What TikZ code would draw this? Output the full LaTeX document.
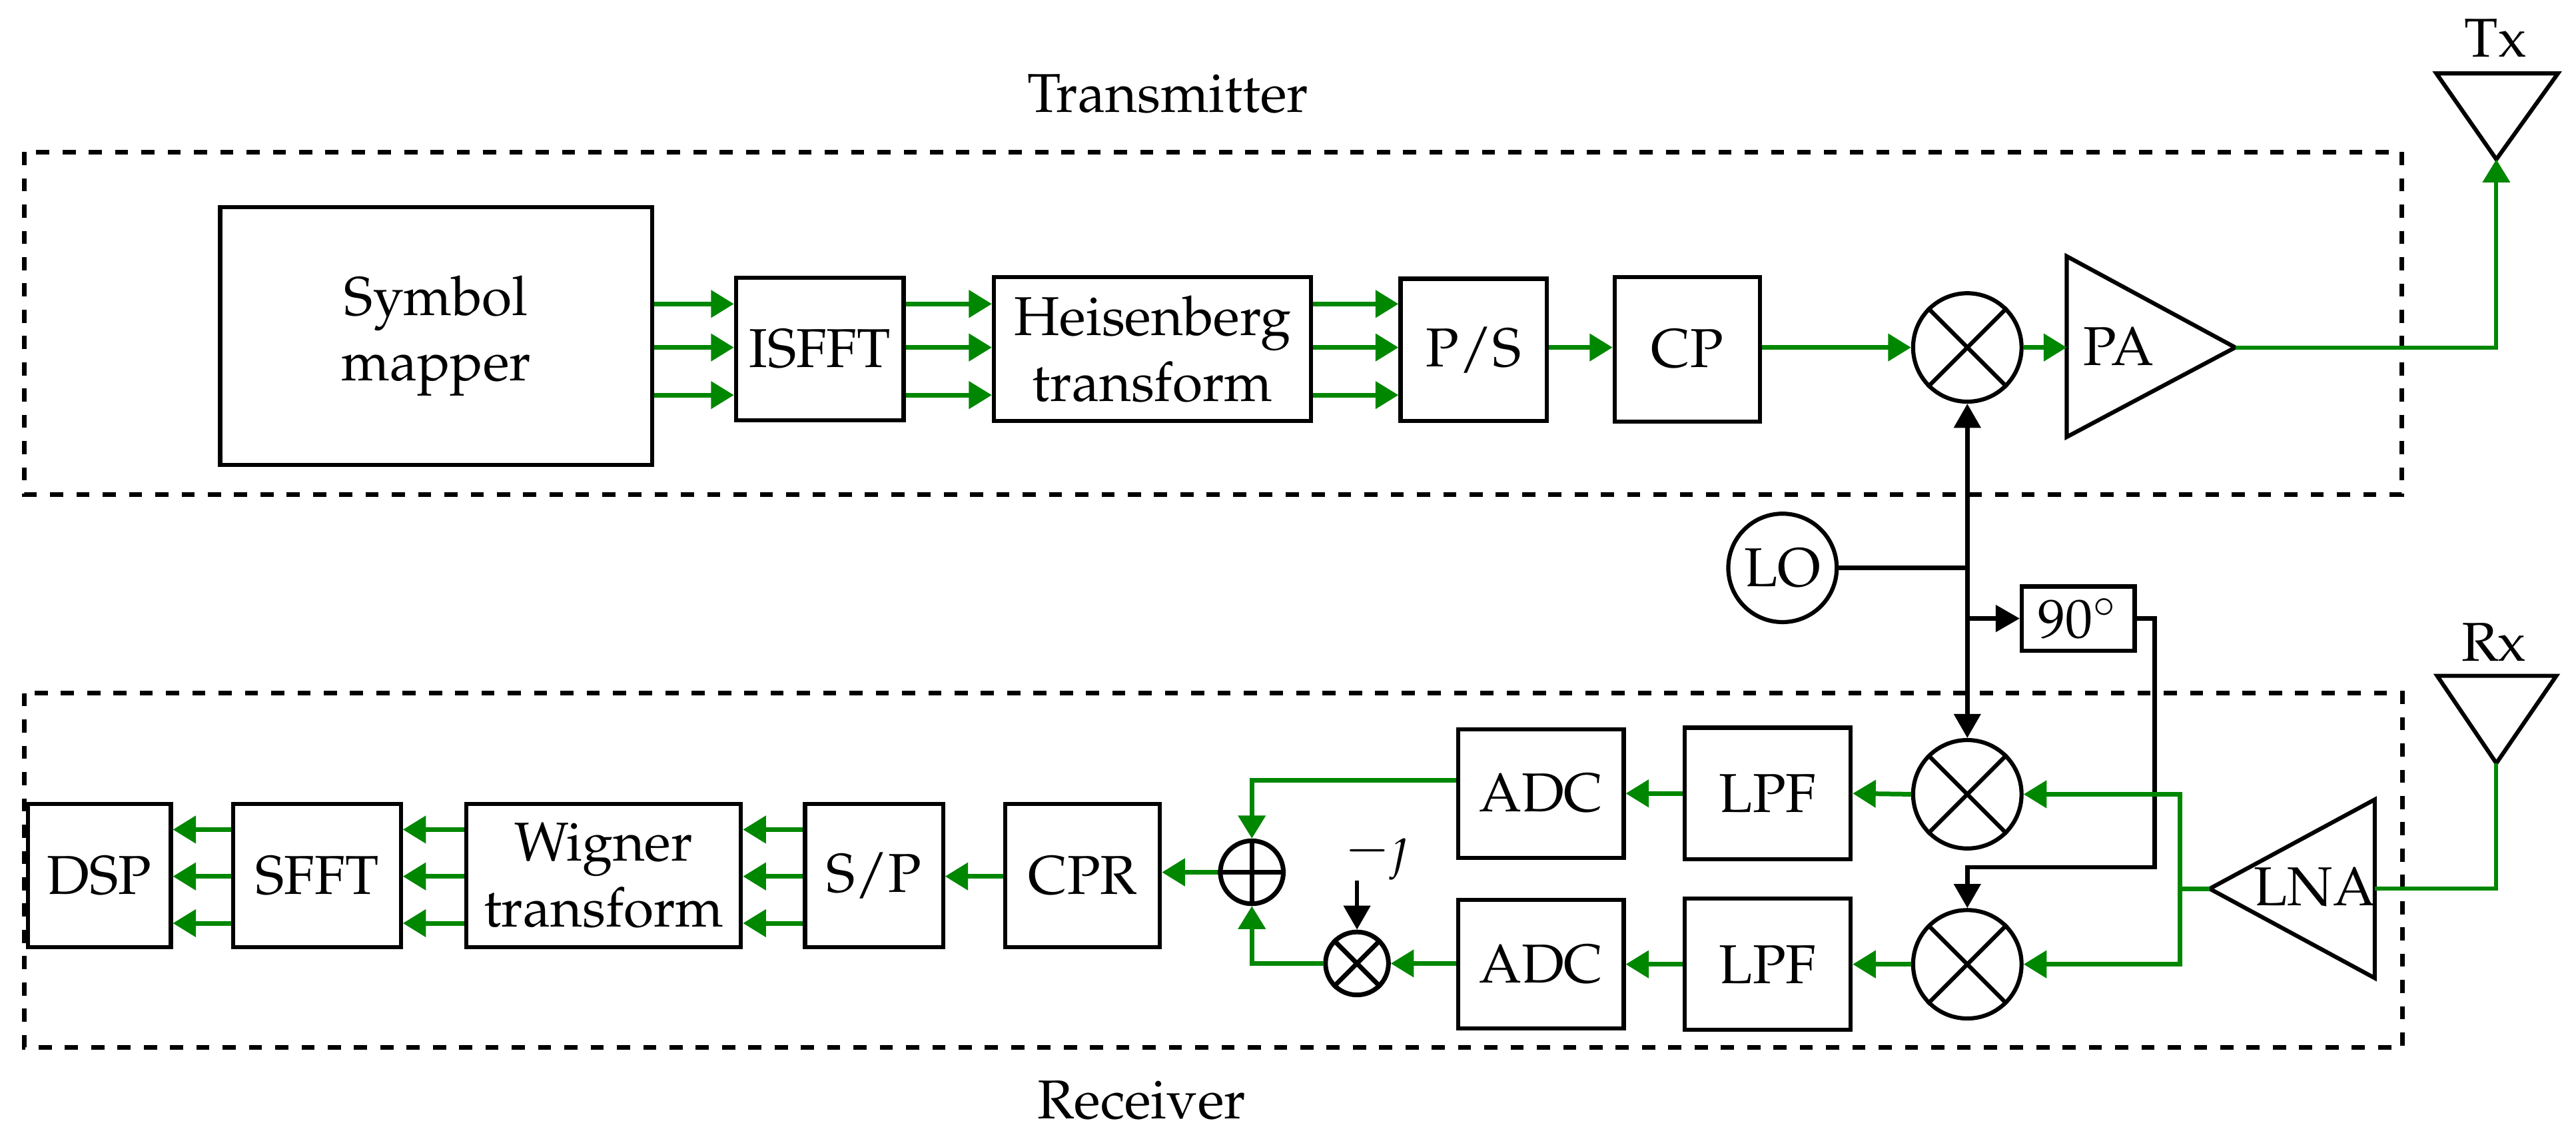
\documentclass[tikz,border=0pt]{standalone}
\usepackage[T1]{fontenc}
\usepackage{mathpazo}
\usetikzlibrary{arrows.meta,calc}
\definecolor{sig}{RGB}{0,135,0}
\begin{document}
\begin{tikzpicture}[x=0.3pt,y=-0.3pt,
  blk/.style={draw,line width=0.75pt,inner sep=1pt,align=center},
  mix/.style={draw,circle,line width=0.75pt,minimum size=19.8pt,inner sep=0pt},
  smallmix/.style={draw,circle,line width=0.85pt,minimum size=11.5pt,inner sep=0pt},
  gr/.style={draw=sig,color=sig,line width=0.85pt,-{Triangle[length=4.2pt,width=4.9pt]}},
  bk/.style={draw=black,line width=0.8pt,-{Triangle[length=4.4pt,width=4.8pt]}},
  bkk/.style={draw=black,line width=0.8pt,{Triangle[length=4.4pt,width=4.8pt]}-{Triangle[length=4.4pt,width=4.8pt]}},
  frame/.style={draw,line width=0.85pt,dash pattern=on 2.4pt off 2.4pt},
  tri/.style={draw,line width=0.75pt,line join=miter}]
\useasboundingbox (0,0) rectangle (1568,692);

% row helpers
\coordinate (r1) at (0,185);
\coordinate (r2) at (0,211.5);
\coordinate (r3) at (0,240.5);
\coordinate (s1) at (0,505);
\coordinate (s2) at (0,533.5);
\coordinate (s3) at (0,562);

% frames
\draw[frame] (15,92.5) rectangle (1462,301);
\node (txlabel) at (711,57) {Transmitter};
\draw[frame] (15,422) rectangle (1462.5,637.5);
\node (rxlabel) at (695,670) {Receiver};

% transmitter blocks
\node[blk,minimum width=78.9pt,minimum height=47.1pt] (sm) at (265.5,204.5) {Symbol\\mapper};
\node[blk,minimum width=30.6pt,minimum height=26pt] (isfft) at (499,212.5) {ISFFT};
\node[blk,minimum width=57.9pt,minimum height=26.2pt] (heis) at (701.5,212.5) {Heisenberg\\transform};
\node[blk,minimum width=26.7pt,minimum height=26pt] (ps) at (897,213) {P/S};
\node[blk,minimum width=26.5pt,minimum height=26.4pt] (cp) at (1027,212.5) {CP};
\node[mix] (mixtx) at (1197.5,211.5) {};

\foreach \r in {r1,r2,r3} {
  \draw[gr] (sm.east |- \r) -- (isfft.west |- \r);
  \draw[gr] (isfft.east |- \r) -- (heis.west |- \r);
  \draw[gr] (heis.east |- \r) -- (ps.west |- \r);
}
\draw[gr] (ps.east |- r2) -- (cp.west |- r2);
\draw[gr] (cp.east |- mixtx) -- (mixtx.west);

% PA
\coordinate (paTop) at (1258,156);
\coordinate (paBot) at (1258,266);
\coordinate (paTip) at (1360.6,211.5);
\coordinate (paIn) at (1258,211.5);
\draw[tri] (paTop) -- (paTip) -- (paBot) -- cycle;
\node (pa) at (1289.5,211) {PA};
\draw[gr] (mixtx.east) -- (paIn);

% Tx antenna
\coordinate (txa1) at (1483,44.7);
\coordinate (txa2) at (1557,44.7);
\coordinate (txtip) at (1519.5,97);
\draw[tri] (txa1) -- (txa2) -- (txtip) -- cycle;
\node (txl) at (1519,23) {Tx};
\draw[gr,line width=0.75pt] (paTip) -| (txtip);

% LO and phase shifter
\node[mix] (lo) at (1085,345.7) {LO};
\node[mix] (mixr1) at (1197.5,483.5) {};
\node[mix] (mixr2) at (1197.5,587) {};
\node[blk,minimum width=20.6pt,minimum height=11.7pt,inner sep=0pt] (ninety) at (1265,376.5) {$90^\circ$};
\draw[bkk] (mixtx.south) -- (mixr1.north);
\draw[line width=0.8pt] (lo.east) -- (lo.east -| mixtx);
\draw[bk] (mixtx |- ninety) -- (ninety.west);
\coordinate (q) at (1311.6,528);
\draw[bk] (ninety.east) -| (q) -| (mixr2.north);

% LNA
\coordinate (lnaTip) at (1345,541);
\coordinate (lnaTop) at (1445.5,486.7);
\coordinate (lnaBot) at (1445.5,595.4);
\coordinate (lnaIn) at (1445.5,541);
\draw[tri] (lnaTip) -- (lnaTop) -- (lnaBot) -- cycle;
\node (lna) at (1409,540) {LNA};

% Rx antenna
\coordinate (rxa1) at (1483.5,411.4);
\coordinate (rxa2) at (1556,411.4);
\coordinate (rxtip) at (1519.5,464.6);
\draw[tri] (rxa1) -- (rxa2) -- (rxtip) -- cycle;
\node (rxl) at (1518,391) {Rx};
\draw[sig,line width=0.75pt] (rxtip) |- (lnaIn);

\coordinate (jn) at (1327,541);
\draw[sig,line width=0.85pt] (lnaTip) -- (jn);
\draw[gr] (jn) |- (mixr1.east);
\draw[gr] (jn) |- (mixr2.east);

% LPF / ADC
\node[blk,minimum width=30.3pt,minimum height=24pt] (lpf1) at (1076,483) {LPF};
\node[blk,minimum width=30.3pt,minimum height=24pt] (lpf2) at (1076,587) {LPF};
\node[blk,minimum width=30.2pt,minimum height=23.5pt] (adc1) at (938,483) {ADC};
\node[blk,minimum width=30.2pt,minimum height=23.5pt] (adc2) at (938,587) {ADC};
\draw[gr] (mixr1.west) -- (lpf1.east);
\draw[gr] (mixr2.west) -- (lpf2.east);
\draw[gr] (lpf1.west) -- (adc1.east);
\draw[gr] (lpf2.west) -- (adc2.east);

% sum and -j
\node[smallmix] (sum) at (762,531) {};
\node[smallmix] (smix) at (826,586.5) {};
\draw[line width=0.85pt] (sum.north) -- (sum.south) (sum.west) -- (sum.east);
\foreach \m in {mixtx,mixr1,mixr2} {
  \draw[line width=0.75pt] (\m.north west) -- (\m.south east) (\m.north east) -- (\m.south west);
}
\draw[line width=0.85pt] (smix.north west) -- (smix.south east) (smix.north east) -- (smix.south west);
\draw[gr] (adc2.west |- smix) -- (smix.east);
\draw[gr] ($(adc1.west)+(0,-8)$) -| (sum.north);
\draw[gr] (smix.west) -| (sum.south);
\coordinate (jt) at (826,536);
\node (mj) at (838,521) {$-\jmath$};
\draw[bk] (jt) -- (smix.north);

% receiver blocks
\node[blk,minimum width=28.2pt,minimum height=26.1pt] (cpr) at (659,533) {CPR};
\node[blk,minimum width=25.2pt,minimum height=26.1pt] (sp) at (532,533) {S/P};
\node[blk,minimum width=50.1pt,minimum height=26.1pt] (wig) at (367.5,533) {Wigner\\transform};
\node[blk,minimum width=30.6pt,minimum height=26.1pt] (sfft) at (193,533) {SFFT};
\node[blk,minimum width=26.1pt,minimum height=26.1pt] (dsp) at (60.5,533) {DSP};
\draw[gr] (sum.west) -- (cpr.east |- sum);
\draw[gr] (cpr.west |- s2) -- (sp.east |- s2);
\foreach \r in {s1,s2,s3} {
  \draw[gr] (sp.west |- \r) -- (wig.east |- \r);
  \draw[gr] (wig.west |- \r) -- (sfft.east |- \r);
  \draw[gr] (sfft.west |- \r) -- (dsp.east |- \r);
}
\end{tikzpicture}
\end{document}
